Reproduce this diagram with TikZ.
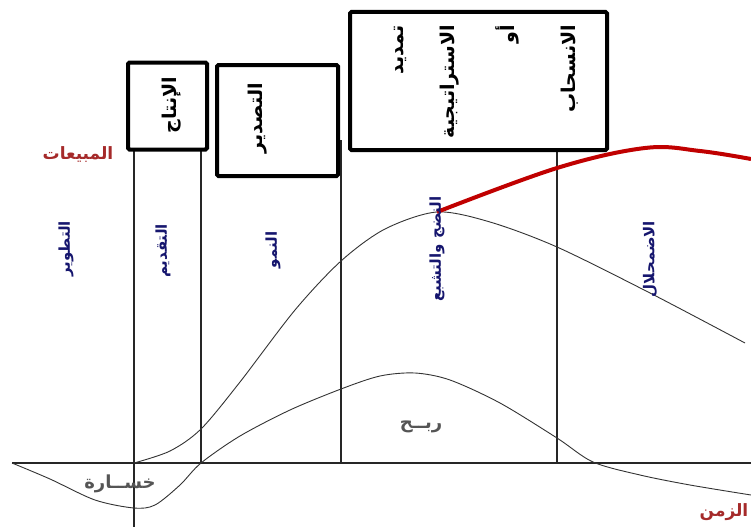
\documentclass[tikz,border=0pt]{standalone}
\usepackage{fontspec}
\newfontfamily\arabicfont[Script=Arabic]{DejaVu Sans}
\TeXXeTstate=1
\definecolor{stageblue}{HTML}{16166E}
\definecolor{axisred}{HTML}{A52A2A}
\definecolor{redline}{HTML}{C00000}
\definecolor{curvegray}{HTML}{333333}
\definecolor{txtgray}{HTML}{555555}
\tikzset{
  frame/.style={draw=black, line width=4pt, rounded corners=1.5pt, fill=white, inner sep=0pt},
  boxtxt/.style={font=\arabicfont\bfseries\fontsize{19}{19}\selectfont, rotate=90, inner sep=0pt},
  stagetxt/.style={font=\arabicfont\bfseries\fontsize{15}{15}\selectfont, text=stageblue, rotate=90, inner sep=0pt},
  axistxt/.style={font=\arabicfont\bfseries\fontsize{17}{17}\selectfont, text=axisred, inner sep=0pt},
  pltxt/.style={font=\arabicfont\bfseries\fontsize{18}{18}\selectfont, text=txtgray, inner sep=0pt},
  guide/.style={draw=black!85, line width=1.2pt},
  curve/.style={draw=curvegray, line width=0.9pt},
  highlight/.style={draw=redline, line width=4pt},
}
\begin{document}
\begin{tikzpicture}[x=1pt,y=-1pt]
\useasboundingbox (0,0) rectangle (751,527);
% coordinates
\coordinate (axL) at (12,463);
\coordinate (axR) at (751,463);
\coordinate (v1t) at (134,150); \coordinate (v1b) at (134,527);
\coordinate (v2t) at (201,150); \coordinate (v2b) at (201,463);
\coordinate (v3t) at (341,140); \coordinate (v3b) at (341,463);
\coordinate (v4t) at (557,150); \coordinate (v4b) at (557,463);
% guide lines
\draw[guide] (axL) -- (axR);
\draw[guide] (v1t) -- (v1b);
\draw[guide] (v2t) -- (v2b);
\draw[guide] (v3t) -- (v3b);
\draw[guide] (v4t) -- (v4b);
% sales curve
\draw[curve] plot[smooth, tension=0.5] coordinates {(134,463) (170,451) (201,429) (240,382) (295,310) (341,261) (385,229) (437,212) (490,222) (557,247) (650,293) (745,343)};
% profit curve
\draw[curve] plot[smooth, tension=0.5] coordinates {(12,463) (50,479) (95,500) (134,508) (155,505) (180,485) (201,463) (240,436) (290,410) (341,389) (380,376) (415,373) (450,380) (500,403) (557,438) (593,462) (640,475) (690,485) (751,495)};
% red line
\coordinate (rs) at (437,212);
\draw[highlight] plot[smooth, tension=0.6] coordinates {(rs) (557,168) (645,148) (700,151) (751,159)};
% boxes
\node[frame, minimum width=79pt, minimum height=87pt] (box1) at (167.5,106) {};
\node[frame, minimum width=121pt, minimum height=111pt] (box2) at (277.5,120.5) {};
\node[frame, minimum width=257pt, minimum height=138pt] (box3) at (478.5,81) {};
\node[boxtxt] (t1) at (172,105) {\beginR الإنتاج\endR};
\node[boxtxt] (t2) at (258,118) {\beginR التصدير\endR};
\node[boxtxt, anchor=east] (t3a) at (570,25) {\beginR الانسحاب\endR};
\node[boxtxt, anchor=east] (t3b) at (507,25) {\beginR أو\endR};
\node[boxtxt, anchor=east] (t3c) at (450,25) {\beginR الاستراتيجية\endR};
\node[boxtxt, anchor=east] (t3d) at (400,25) {\beginR تمديد\endR};
% stage labels
\node[stagetxt] (s1) at (66,249) {\beginR التطوير\endR};
\node[stagetxt] (s2) at (163,251) {\beginR التقديم\endR};
\node[stagetxt] (s3) at (273,250) {\beginR النمو\endR};
\node[stagetxt] (s4) at (437,249) {\beginR النضج والتشبع\endR};
\node[stagetxt] (s5) at (650,259) {\beginR الاضمحلال\endR};
% axis labels
\node[axistxt] (ylab) at (78,155) {\beginR المبيعات\endR};
\node[axistxt] (xlab) at (724,512) {\beginR الزمن\endR};
% profit / loss
\node[pltxt] (loss) at (120,484) {\beginR خســارة\endR};
\node[pltxt] (gain) at (421,427) {\beginR ربــح\endR};
\end{tikzpicture}
\end{document}
